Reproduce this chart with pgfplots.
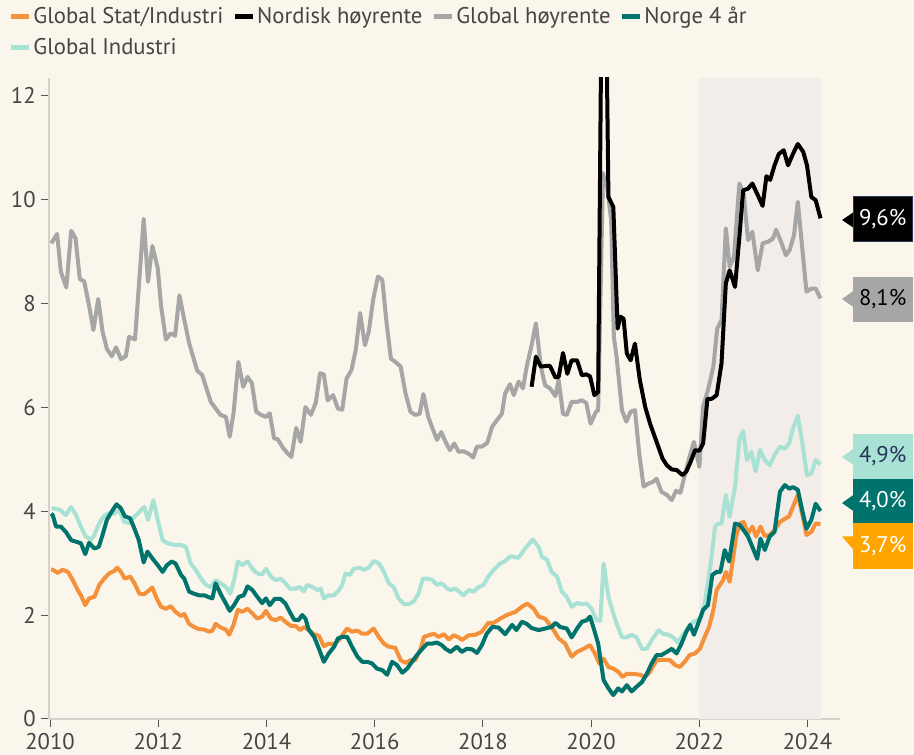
\documentclass[border=0pt]{standalone}
\usepackage{fontspec}
\setmainfont{PT Sans}
\usepackage{pgfplots}
\pgfplotsset{compat=1.18}

\definecolor{bgcream}{HTML}{FAF6EC}
\definecolor{bandgrey}{HTML}{F2EDE8}
\definecolor{axgrey}{HTML}{D6D2CB}
\definecolor{tickgrey}{HTML}{555555}
\definecolor{txtgrey}{HTML}{454545}
\definecolor{cOrange}{HTML}{F5913A}
\definecolor{cGrey}{HTML}{A6A6A6}
\definecolor{cTeal}{HTML}{00736D}
\definecolor{cMint}{HTML}{A8E2D4}
\definecolor{cAmber}{HTML}{FFA500}
\definecolor{cNavy}{HTML}{26365A}

\newcommand{\lblfont}{\fontsize{17}{20}\selectfont}

\begin{document}
\begin{tikzpicture}
% page: 914x755 px at 0.75pt/px
\useasboundingbox (0pt,0pt) rectangle (685.5pt,566.25pt);
\fill[bgcream] (0pt,0pt) rectangle (685.5pt,566.25pt);

\begin{axis}[
    at={(36.75pt,27pt)}, anchor=south west,
    scale only axis,
    width=593.25pt, height=480.75pt,
    xmin=2009.98, xmax=2024.6,
    ymin=0, ymax=12.33,
    axis x line*=bottom, axis y line*=left,
    axis line style={-, draw=axgrey, line width=1.5pt},
    tick align=outside,
    major tick length=6pt,
    tick style={draw=tickgrey, line width=0.75pt},
    xtick={2010,2012,...,2024},
    xticklabels={2010,2012,2014,2016,2018,2020,2022,2024},
    ytick={0,2,...,12},
    yticklabels={0,2,4,6,8,10,12},
    tick label style={font=\lblfont, text=txtgrey},
    x tick label style={inner ysep=0pt, yshift=-4.5pt},
    y tick label style={inner ysep=1pt, xshift=-0.5pt},
    every axis plot/.append style={line width=3pt, line join=round},
    legend columns=4,
    legend cell align=left,
    legend style={
        at={(-0.051,1.115)}, anchor=north west,
        draw=none, fill=none, inner sep=0pt,
        font=\lblfont, text=txtgrey,
        /tikz/every odd column/.append style={column sep=0.5pt},
        /tikz/every even column/.append style={column sep=6pt},
        row sep=5.5pt,
        nodes={inner xsep=1pt},
    },
    legend image code/.code={\draw[#1, line width=3.4pt] (0pt,0pt) -- (13.5pt,0pt);},
]
% legend entries in the reference order
\addlegendimage{cOrange}\addlegendentry{Global Stat/Industri}
\addlegendimage{black}\addlegendentry{Nordisk høyrente}
\addlegendimage{cGrey}\addlegendentry{Global høyrente}
\addlegendimage{cTeal}\addlegendentry{Norge 4 år}
\addlegendimage{cMint}\addlegendentry{Global Industri}

% shaded period
\addplot[forget plot, fill=bandgrey, draw=none, line width=0pt]
  coordinates {(2022,12.33) (2024.25,12.33)} \closedcycle;

% Global Industri
\addplot[forget plot, cMint] coordinates {
(2010.03,4.05)(2010.08,4.05)(2010.19,4.02)(2010.29,3.92)(2010.39,4.08)(2010.48,3.92)(2010.57,3.7)
(2010.66,3.51)(2010.76,3.45)(2010.82,3.54)(2010.88,3.7)(2010.97,3.87)(2011.06,3.95)(2011.19,3.95)
(2011.28,4.02)(2011.37,3.79)(2011.46,3.77)(2011.56,3.89)(2011.74,4.08)(2011.81,3.83)(2011.91,4.21)
(2011.99,3.83)(2012.08,3.44)(2012.17,3.38)(2012.29,3.35)(2012.42,3.35)(2012.51,3.31)(2012.6,2.99)
(2012.69,2.87)(2012.79,2.7)(2012.88,2.58)(2012.97,2.54)(2013.06,2.67)(2013.15,2.61)(2013.25,2.54)
(2013.33,2.41)(2013.4,2.67)(2013.47,3.03)(2013.55,2.96)(2013.65,3.03)(2013.74,2.89)(2013.83,2.8)
(2013.92,2.78)(2013.99,2.89)(2014.08,2.74)(2014.17,2.67)(2014.26,2.7)(2014.35,2.61)(2014.43,2.51)
(2014.54,2.51)(2014.62,2.54)(2014.69,2.45)(2014.75,2.58)(2014.85,2.54)(2014.94,2.48)(2015.0,2.51)
(2015.06,2.32)(2015.15,2.38)(2015.25,2.38)(2015.34,2.48)(2015.4,2.58)(2015.46,2.8)(2015.54,2.77)
(2015.61,2.89)(2015.71,2.91)(2015.8,2.87)(2015.89,2.91)(2015.98,3.04)(2016.08,2.99)(2016.17,2.83)
(2016.26,2.61)(2016.35,2.54)(2016.44,2.32)(2016.54,2.21)(2016.63,2.21)(2016.72,2.26)(2016.81,2.41)
(2016.89,2.7)(2016.97,2.7)(2017.06,2.68)(2017.15,2.58)(2017.24,2.61)(2017.34,2.51)(2017.4,2.48)
(2017.49,2.51)(2017.64,2.38)(2017.74,2.48)(2017.83,2.45)(2017.92,2.54)(2018.01,2.58)(2018.1,2.74)
(2018.2,2.87)(2018.32,2.99)(2018.41,3.04)(2018.51,3.13)(2018.66,3.1)(2018.78,3.28)(2018.92,3.45)
(2019.03,3.31)(2019.09,3.12)(2019.18,3.07)(2019.27,2.83)(2019.37,2.74)(2019.46,2.45)(2019.55,2.35)
(2019.64,2.16)(2019.74,2.23)(2019.83,2.21)(2019.92,2.22)(2020.01,2.12)(2020.1,1.9)(2020.17,1.89)
(2020.23,2.99)(2020.32,2.35)(2020.41,2.03)(2020.47,1.84)(2020.57,1.57)(2020.66,1.57)(2020.75,1.62)
(2020.84,1.57)(2020.94,1.35)(2021.03,1.35)(2021.12,1.52)(2021.25,1.71)(2021.33,1.64)(2021.43,1.62)
(2021.52,1.57)(2021.6,1.47)(2021.67,1.58)(2021.76,1.71)(2021.86,1.85)(2021.95,1.89)(2022.04,1.97)
(2022.1,2.22)(2022.16,2.64)(2022.22,3.06)(2022.29,3.7)(2022.35,3.76)(2022.41,3.76)(2022.49,4.31)
(2022.56,3.89)(2022.66,4.47)(2022.74,5.37)(2022.81,5.54)(2022.88,4.98)(2022.96,5.14)(2023.04,4.76)
(2023.12,5.18)(2023.21,4.98)(2023.3,4.88)(2023.39,5.08)(2023.49,5.24)(2023.58,5.2)(2023.66,5.3)
(2023.73,5.59)(2023.82,5.83)(2023.9,5.33)(2023.99,4.69)(2024.07,4.72)(2024.15,4.98)(2024.24,4.9)
};

% Global høyrente
\addplot[forget plot, cGrey] coordinates {
(2010.02,9.15)(2010.06,9.21)(2010.13,9.33)(2010.2,8.6)(2010.3,8.3)(2010.39,9.39)(2010.47,9.25)(2010.55,8.46)
(2010.63,8.42)(2010.73,7.9)(2010.8,7.48)(2010.89,8.08)(2010.97,7.45)(2011.05,7.12)(2011.14,6.98)
(2011.22,7.15)(2011.31,6.92)(2011.4,6.98)(2011.46,7.35)(2011.57,7.3)(2011.73,9.62)(2011.81,8.41)
(2011.89,9.1)(2011.99,8.67)(2012.05,7.96)(2012.14,7.3)(2012.23,7.42)(2012.31,7.37)(2012.39,8.15)
(2012.47,7.73)(2012.57,7.23)(2012.72,6.7)(2012.81,6.62)(2012.97,6.1)(2013.15,5.85)(2013.25,5.81)
(2013.32,5.43)(2013.39,5.88)(2013.48,6.87)(2013.57,6.39)(2013.65,6.58)(2013.73,6.46)(2013.81,5.91)
(2013.9,5.85)(2013.99,5.81)(2014.06,5.88)(2014.14,5.4)(2014.21,5.38)(2014.31,5.21)(2014.39,5.11)
(2014.46,5.04)(2014.55,5.6)(2014.63,5.33)(2014.72,6.0)(2014.82,5.85)(2014.91,6.08)(2014.99,6.65)
(2015.06,6.63)(2015.13,6.13)(2015.23,6.23)(2015.32,5.97)(2015.4,5.95)(2015.48,6.55)(2015.57,6.71)
(2015.65,7.1)(2015.73,7.81)(2015.82,7.19)(2015.89,7.45)(2015.97,8.06)(2016.06,8.51)(2016.14,8.45)
(2016.22,7.61)(2016.3,6.93)(2016.38,6.87)(2016.48,6.78)(2016.57,6.26)(2016.66,5.91)(2016.75,5.85)
(2016.83,5.87)(2016.9,6.25)(2016.99,5.81)(2017.08,5.56)(2017.15,5.37)(2017.23,5.52)(2017.31,5.33)
(2017.39,5.17)(2017.47,5.3)(2017.55,5.14)(2017.64,5.15)(2017.74,5.1)(2017.82,5.03)(2017.89,5.24)
(2017.98,5.24)(2018.08,5.31)(2018.17,5.62)(2018.26,5.75)(2018.35,5.87)(2018.41,6.26)(2018.5,6.44)
(2018.57,6.23)(2018.66,6.49)(2018.74,6.36)(2018.81,6.78)(2018.9,7.19)(2018.98,7.61)(2019.07,6.78)
(2019.15,6.42)(2019.24,6.36)(2019.34,6.21)(2019.4,6.52)(2019.48,5.87)(2019.55,5.85)(2019.64,6.1)
(2019.74,6.1)(2019.83,6.13)(2019.91,6.08)(2019.99,5.68)(2020.09,5.91)(2020.13,5.94)(2020.22,10.5)
(2020.3,10.2)(2020.37,9.6)(2020.42,7.35)(2020.47,6.97)(2020.57,5.94)(2020.65,5.72)(2020.73,5.91)
(2020.81,5.94)(2020.89,5.1)(2020.97,4.47)(2021.06,4.53)(2021.14,4.56)(2021.21,4.62)(2021.3,4.37)
(2021.4,4.31)(2021.49,4.21)(2021.57,4.39)(2021.65,4.35)(2021.73,4.69)(2021.81,5.01)(2021.9,5.33)
(2022.0,4.85)(2022.07,6.01)(2022.16,6.33)(2022.26,6.78)(2022.33,7.51)(2022.41,7.67)(2022.49,9.44)
(2022.56,8.7)(2022.64,8.89)(2022.74,10.3)(2022.82,10.1)(2022.9,9.21)(2022.98,9.37)(2023.08,8.63)
(2023.17,9.15)(2023.27,9.18)(2023.36,9.24)(2023.42,9.41)(2023.52,9.15)(2023.6,8.92)(2023.67,9.02)
(2023.75,9.31)(2023.82,9.95)(2023.9,9.08)(2023.98,8.22)(2024.07,8.28)(2024.15,8.28)(2024.24,8.09)
};

% Global Stat/Industri
\addplot[forget plot, cOrange] coordinates {
(2010.02,2.88)(2010.05,2.87)(2010.14,2.81)(2010.23,2.87)(2010.33,2.83)(2010.42,2.67)(2010.51,2.48)(2010.57,2.38)
(2010.65,2.19)(2010.72,2.32)(2010.82,2.35)(2010.91,2.58)(2011.0,2.7)(2011.09,2.8)(2011.19,2.85)
(2011.24,2.91)(2011.31,2.83)(2011.38,2.7)(2011.48,2.74)(2011.56,2.61)(2011.65,2.41)(2011.74,2.4)
(2011.8,2.45)(2011.89,2.53)(2011.97,2.32)(2012.05,2.16)(2012.14,2.12)(2012.23,2.17)(2012.32,2.06)
(2012.42,1.98)(2012.48,2.02)(2012.57,1.83)(2012.66,1.77)(2012.75,1.73)(2012.85,1.72)(2012.94,1.68)
(2013.0,1.7)(2013.06,1.83)(2013.15,1.76)(2013.25,1.72)(2013.31,1.62)(2013.39,1.81)(2013.47,2.1)
(2013.55,2.06)(2013.65,2.12)(2013.74,2.03)(2013.83,1.93)(2013.92,1.97)(2013.99,2.08)(2014.08,1.93)
(2014.17,1.9)(2014.26,1.95)(2014.35,1.87)(2014.45,1.79)(2014.54,1.79)(2014.62,1.71)(2014.7,1.77)
(2014.78,1.71)(2014.88,1.63)(2014.97,1.6)(2015.06,1.4)(2015.15,1.45)(2015.25,1.44)(2015.34,1.52)
(2015.4,1.61)(2015.49,1.74)(2015.58,1.68)(2015.68,1.7)(2015.77,1.64)(2015.86,1.64)(2015.98,1.74)
(2016.08,1.57)(2016.17,1.45)(2016.26,1.39)(2016.38,1.37)(2016.48,1.13)(2016.57,1.08)(2016.66,1.13)
(2016.75,1.13)(2016.85,1.35)(2016.91,1.58)(2017.0,1.61)(2017.09,1.64)(2017.18,1.58)(2017.28,1.63)
(2017.37,1.53)(2017.46,1.61)(2017.55,1.57)(2017.61,1.52)(2017.74,1.61)(2017.86,1.62)(2017.98,1.68)
(2018.1,1.85)(2018.2,1.85)(2018.32,1.93)(2018.44,2.0)(2018.6,2.06)(2018.72,2.16)(2018.82,2.22)
(2018.94,2.12)(2019.03,1.97)(2019.15,1.93)(2019.27,1.77)(2019.4,1.55)(2019.52,1.45)(2019.64,1.2)
(2019.74,1.29)(2019.86,1.35)(2019.98,1.42)(2020.07,1.26)(2020.15,1.07)(2020.23,1.16)(2020.32,1.0)
(2020.41,0.97)(2020.5,0.91)(2020.58,0.81)(2020.66,0.87)(2020.78,0.87)(2020.9,0.85)(2021.0,0.81)
(2021.09,0.91)(2021.21,1.13)(2021.33,1.14)(2021.46,1.13)(2021.55,1.04)(2021.64,1.0)(2021.73,1.1)
(2021.82,1.23)(2021.92,1.26)(2022.01,1.35)(2022.1,1.58)(2022.18,1.77)(2022.26,2.1)(2022.32,2.48)
(2022.38,2.58)(2022.44,2.67)(2022.49,2.83)(2022.56,2.64)(2022.62,3.06)(2022.68,3.51)(2022.75,3.76)
(2022.82,3.79)(2022.9,3.57)(2022.98,3.7)(2023.05,3.51)(2023.13,3.7)(2023.21,3.52)(2023.3,3.54)
(2023.39,3.63)(2023.49,3.79)(2023.58,3.85)(2023.66,3.9)(2023.73,4.08)(2023.82,4.31)(2023.9,3.95)
(2023.98,3.54)(2024.07,3.6)(2024.15,3.76)(2024.24,3.75)
};

% Norge 4 år
\addplot[forget plot, cTeal] coordinates {
(2010.02,3.95)(2010.05,3.92)(2010.11,3.7)(2010.2,3.7)(2010.29,3.6)(2010.39,3.44)(2010.48,3.41)(2010.57,3.38)
(2010.65,3.17)(2010.72,3.39)(2010.82,3.28)(2010.9,3.31)(2010.97,3.54)(2011.05,3.83)(2011.14,3.99)
(2011.23,4.13)(2011.31,4.05)(2011.38,3.9)(2011.48,3.86)(2011.56,3.66)(2011.64,3.44)(2011.73,3.01)
(2011.8,3.22)(2011.89,3.09)(2011.99,2.96)(2012.08,2.83)(2012.16,2.96)(2012.25,3.03)(2012.32,2.99)
(2012.42,2.77)(2012.48,2.7)(2012.57,2.45)(2012.66,2.41)(2012.75,2.38)(2012.85,2.38)(2012.94,2.34)
(2013.0,2.32)(2013.06,2.61)(2013.15,2.41)(2013.25,2.22)(2013.32,2.08)(2013.4,2.19)(2013.49,2.35)
(2013.58,2.38)(2013.65,2.55)(2013.74,2.48)(2013.83,2.35)(2013.92,2.23)(2013.99,2.32)(2014.06,2.19)
(2014.15,2.31)(2014.26,2.31)(2014.35,2.22)(2014.43,2.06)(2014.51,1.91)(2014.59,1.9)(2014.66,2.0)
(2014.72,1.93)(2014.78,1.72)(2014.88,1.58)(2014.97,1.35)(2015.06,1.1)(2015.15,1.26)(2015.25,1.39)
(2015.32,1.55)(2015.4,1.58)(2015.49,1.58)(2015.58,1.39)(2015.68,1.2)(2015.77,1.1)(2015.86,1.1)
(2015.95,1.07)(2016.04,0.97)(2016.14,0.94)(2016.23,0.85)(2016.32,1.1)(2016.41,1.04)(2016.51,0.89)
(2016.6,0.97)(2016.69,1.1)(2016.78,1.23)(2016.88,1.35)(2016.97,1.45)(2017.06,1.45)(2017.15,1.47)
(2017.24,1.42)(2017.31,1.35)(2017.4,1.29)(2017.52,1.39)(2017.61,1.29)(2017.7,1.35)(2017.8,1.34)
(2017.89,1.27)(2017.98,1.42)(2018.07,1.64)(2018.17,1.77)(2018.29,1.76)(2018.41,1.63)(2018.54,1.81)
(2018.62,1.71)(2018.72,1.87)(2018.81,1.83)(2018.9,1.75)(2019.03,1.71)(2019.15,1.74)(2019.27,1.77)
(2019.34,1.85)(2019.43,1.77)(2019.55,1.74)(2019.64,1.57)(2019.74,1.74)(2019.83,1.87)(2019.92,1.9)
(2019.98,1.97)(2020.04,1.77)(2020.13,1.45)(2020.23,0.75)(2020.32,0.59)(2020.41,0.46)(2020.5,0.59)
(2020.57,0.53)(2020.66,0.65)(2020.75,0.53)(2020.84,0.62)(2020.94,0.71)(2021.03,0.87)(2021.12,1.07)
(2021.21,1.23)(2021.3,1.23)(2021.4,1.29)(2021.49,1.35)(2021.58,1.26)(2021.67,1.45)(2021.76,1.68)
(2021.83,1.81)(2021.9,1.62)(2021.98,1.84)(2022.07,2.1)(2022.16,2.19)(2022.24,2.77)(2022.32,2.83)
(2022.39,2.83)(2022.47,3.25)(2022.55,3.03)(2022.66,3.76)(2022.75,3.73)(2022.82,3.63)(2022.9,3.51)
(2022.98,3.31)(2023.07,3.08)(2023.13,3.47)(2023.21,3.25)(2023.3,3.51)(2023.39,3.6)(2023.49,4.37)
(2023.58,4.5)(2023.66,4.43)(2023.73,4.46)(2023.82,4.41)(2023.9,4.02)(2023.98,3.66)(2024.07,3.83)
(2024.15,4.14)(2024.24,4.0)
};

% Nordisk høyrente
\addplot[forget plot, black] coordinates {
(2018.9,6.39)(2018.98,6.97)(2019.07,6.78)(2019.17,6.79)(2019.24,6.79)(2019.34,6.57)(2019.4,6.58)
(2019.48,7.04)(2019.56,6.64)(2019.64,6.9)(2019.74,6.9)(2019.83,6.61)(2019.91,6.63)(2019.98,6.59)
(2020.06,6.23)(2020.13,6.29)(2020.19,13.5)(2020.28,13.5)(2020.32,10.04)(2020.41,9.85)(2020.49,7.51)
(2020.54,7.74)(2020.6,7.7)(2020.66,7.03)(2020.73,6.9)(2020.81,7.22)(2020.9,6.52)(2021.0,6.0)
(2021.09,5.68)(2021.21,5.33)(2021.32,5.01)(2021.4,4.88)(2021.49,4.8)(2021.58,4.79)(2021.69,4.69)
(2021.76,4.76)(2021.84,4.95)(2021.92,5.17)(2022.0,5.16)(2022.07,5.3)(2022.15,6.16)(2022.23,6.16)
(2022.32,6.23)(2022.41,6.84)(2022.49,8.38)(2022.56,8.63)(2022.66,8.31)(2022.74,9.27)(2022.81,10.17)
(2022.9,10.2)(2022.98,10.3)(2023.07,10.1)(2023.17,9.87)(2023.24,10.44)(2023.31,10.37)(2023.39,10.65)
(2023.47,10.87)(2023.56,10.94)(2023.64,10.65)(2023.73,10.87)(2023.82,11.06)(2023.92,10.91)
(2023.99,10.65)(2024.07,10.04)(2024.15,9.98)(2024.24,9.63)
};
\end{axis}

% end-value callouts on the right
\fill[black] (631.5pt,401.25pt) -- (640pt,407pt) -- (640pt,395.5pt) -- cycle;
\filldraw[fill=black, draw=cNavy, line width=0.75pt] (640pt,384.75pt) rectangle (684pt,418.5pt);
\node[text=white, font=\lblfont] at (662pt,401.6pt) {9,6\%};

\fill[cGrey] (631.5pt,342pt) -- (640pt,348pt) -- (640pt,336pt) -- cycle;
\fill[cGrey] (640pt,324.75pt) rectangle (684.5pt,358.5pt);
\node[text=black, font=\lblfont] at (662pt,341.6pt) {8,1\%};

\fill[cMint] (631.5pt,223.5pt) -- (640pt,229.5pt) -- (640pt,217.5pt) -- cycle;
\fill[cMint] (640pt,207pt) rectangle (684.5pt,240.75pt);
\node[text=cNavy, font=\lblfont] at (662pt,224pt) {4,9\%};

\fill[cTeal] (631.5pt,189pt) -- (640pt,195pt) -- (640pt,183pt) -- cycle;
\fill[cTeal] (640pt,174pt) rectangle (684.5pt,207pt);
\node[text=white, font=\lblfont] at (662pt,190.5pt) {4,0\%};

\fill[cAmber] (631.5pt,164pt) -- (640pt,164pt) -- (640pt,154pt) -- cycle;
\fill[cAmber] (640pt,139.5pt) rectangle (684.5pt,174pt);
\node[text=white, font=\lblfont] at (662pt,156.8pt) {3,7\%};
\end{tikzpicture}
\end{document}
